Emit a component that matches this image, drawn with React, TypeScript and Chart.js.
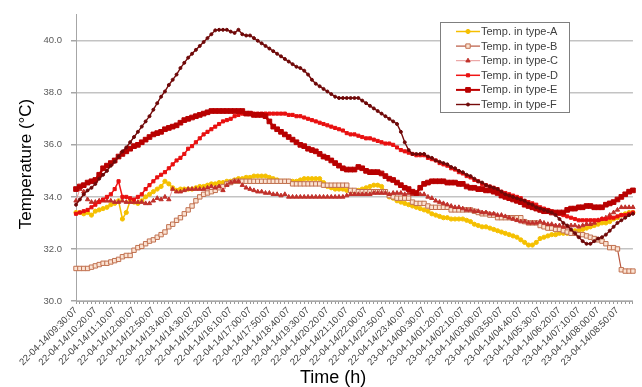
import React, { useEffect, useRef } from 'react';
import { Chart, registerables } from 'chart.js';

Chart.register(...registerables);

const SERIES_NAMES = [
  'Temp. in type-A',
  'Temp. in type-B',
  'Temp. in type-C',
  'Temp. in type-D',
  'Temp. in type-E',
  'Temp. in type-F',
];

const TYPE_A = [
  33.4, 33.4, 33.35, 33.4, 33.3, 33.45, 33.5, 33.55, 33.6, 33.7,
  33.75, 33.85, 33.15, 33.4, 33.85, 33.8, 33.75, 33.85, 34.0, 34.1,
  34.2, 34.3, 34.4, 34.6, 34.5, 34.35, 34.25, 34.3, 34.3, 34.3,
  34.3, 34.35, 34.4, 34.4, 34.45, 34.5, 34.5, 34.55, 34.55, 34.6,
  34.6, 34.65, 34.7, 34.7, 34.75, 34.75, 34.8, 34.8, 34.8, 34.8,
  34.75, 34.7, 34.65, 34.6, 34.6, 34.6, 34.6, 34.6, 34.65, 34.7,
  34.7, 34.7, 34.7, 34.7, 34.55, 34.4, 34.35, 34.3, 34.3, 34.3,
  34.25, 34.2, 34.2, 34.25, 34.3, 34.35, 34.4, 34.45, 34.45, 34.4,
  34.2, 34.0, 33.95, 33.85, 33.8, 33.75, 33.7, 33.65, 33.6, 33.55,
  33.5, 33.45, 33.35, 33.3, 33.25, 33.2, 33.2, 33.15, 33.15, 33.15,
  33.15, 33.1, 33.05, 32.95, 32.9, 32.85, 32.85, 32.8, 32.75, 32.7,
  32.65, 32.6, 32.55, 32.5, 32.45, 32.35, 32.25, 32.15, 32.15, 32.25,
  32.4, 32.45, 32.5, 32.55, 32.55, 32.6, 32.6, 32.6, 32.65, 32.7,
  32.7, 32.75, 32.8, 32.85, 32.9, 32.95, 33.0, 33.0, 33.05, 33.15,
  33.2, 33.3, 33.35, 33.4, 33.4,
];

const TYPE_B = [
  31.25, 31.25, 31.25, 31.25, 31.3, 31.35, 31.4, 31.45, 31.45, 31.5,
  31.55, 31.6, 31.7, 31.75, 31.75, 31.95, 32.05, 32.1, 32.2, 32.3,
  32.35, 32.45, 32.55, 32.65, 32.85, 32.95, 33.1, 33.2, 33.35, 33.5,
  33.65, 33.85, 34.0, 34.1, 34.15, 34.2, 34.25, 34.35, 34.4, 34.5,
  34.55, 34.6, 34.6, 34.6, 34.6, 34.6, 34.6, 34.6, 34.6, 34.6,
  34.6, 34.6, 34.6, 34.6, 34.6, 34.6, 34.5, 34.5, 34.5, 34.5,
  34.5, 34.5, 34.5, 34.5, 34.45, 34.45, 34.45, 34.45, 34.45, 34.45,
  34.45, 34.25, 34.25, 34.2, 34.2, 34.2, 34.2, 34.2, 34.2, 34.2,
  34.2, 34.05, 34.0, 33.95, 33.95, 33.95, 33.95, 33.8, 33.75, 33.75,
  33.75, 33.65, 33.6, 33.6, 33.6, 33.6, 33.6, 33.5, 33.5, 33.5,
  33.5, 33.5, 33.5, 33.45, 33.4, 33.35, 33.35, 33.3, 33.3, 33.2,
  33.2, 33.2, 33.2, 33.2, 33.2, 33.2, 33.05, 33.0, 33.0, 33.0,
  32.9, 32.85, 32.8, 32.8, 32.75, 32.75, 32.7, 32.65, 32.6, 32.6,
  32.55, 32.55, 32.5, 32.45, 32.4, 32.35, 32.3, 32.2, 32.05, 32.05,
  32.0, 31.2, 31.15, 31.15, 31.15,
];

const TYPE_C = [
  33.85, 34.3, 34.2, 33.9, 33.8, 33.8, 33.85, 33.85, 33.85, 33.85,
  33.8, 33.8, 33.85, 33.8, 33.8, 33.8, 33.8, 33.8, 33.75, 33.75,
  33.85, 33.95, 33.9, 34.0, 33.9, 34.3, 34.2, 34.2, 34.25, 34.3,
  34.3, 34.3, 34.3, 34.3, 34.35, 34.4, 34.35, 34.4, 34.25, 34.45,
  34.55, 34.6, 34.6, 34.45, 34.35, 34.3, 34.25, 34.2, 34.2, 34.15,
  34.15, 34.1, 34.1, 34.05, 34.1, 34.0, 34.0, 34.0, 34.0, 34.0,
  34.0, 34.0, 34.0, 34.0, 34.0, 34.0, 34.0, 34.0, 34.0, 34.0,
  34.05, 34.1, 34.1, 34.1, 34.1, 34.1, 34.1, 34.15, 34.15, 34.15,
  34.15, 34.1, 34.15, 34.15, 34.15, 34.1, 34.15, 34.1, 34.1, 34.1,
  34.1, 34.0, 33.95, 33.85, 33.8, 33.75, 33.7, 33.65, 33.6, 33.6,
  33.55, 33.5, 33.5, 33.45, 33.45, 33.4, 33.4, 33.35, 33.35, 33.3,
  33.3, 33.25, 33.2, 33.15, 33.1, 33.05, 33.05, 33.0, 33.0, 33.0,
  33.05, 33.0, 32.95, 32.95, 32.9, 32.9, 32.85, 32.85, 32.9, 32.9,
  32.85, 32.9, 32.95, 32.95, 33.0, 33.1, 33.15, 33.2, 33.3, 33.4,
  33.5, 33.6, 33.6, 33.6, 33.6,
];

const TYPE_D = [
  33.35, 33.4, 33.45, 33.5, 33.6, 33.7, 33.8, 33.9, 34.0, 34.1,
  34.3, 34.6, 34.0, 34.0, 33.95, 33.9, 34.0, 34.1, 34.3, 34.45,
  34.6, 34.75, 34.85, 34.95, 35.1, 35.25, 35.4, 35.5, 35.65, 35.85,
  35.95, 36.1, 36.25, 36.4, 36.5, 36.6, 36.7, 36.8, 36.9, 36.95,
  37.0, 37.1, 37.15, 37.2, 37.2, 37.2, 37.2, 37.2, 37.2, 37.2,
  37.2, 37.2, 37.2, 37.2, 37.2, 37.15, 37.15, 37.1, 37.1, 37.05,
  37.0, 36.95, 36.9, 36.85, 36.8, 36.75, 36.7, 36.65, 36.6, 36.55,
  36.45, 36.4, 36.4, 36.35, 36.3, 36.25, 36.25, 36.2, 36.15, 36.1,
  36.05, 36.05, 36.0, 35.9, 35.8, 35.75, 35.7, 35.65, 35.6, 35.6,
  35.6, 35.5, 35.45, 35.4, 35.3, 35.25, 35.2, 35.1, 35.05, 34.95,
  34.9, 34.8, 34.75, 34.65, 34.6, 34.5, 34.45, 34.4, 34.35, 34.3,
  34.2, 34.15, 34.1, 34.05, 34.0, 33.95, 33.85, 33.8, 33.75, 33.7,
  33.6, 33.55, 33.5, 33.45, 33.4, 33.35, 33.3, 33.25, 33.2, 33.15,
  33.1, 33.1, 33.1, 33.1, 33.1, 33.1, 33.15, 33.15, 33.2, 33.2,
  33.25, 33.3, 33.3, 33.35, 33.4,
];

const TYPE_E = [
  34.3, 34.4, 34.45, 34.55, 34.6, 34.65, 34.85, 35.1, 35.2, 35.3,
  35.4, 35.55, 35.65, 35.75, 35.85, 35.95, 36.0, 36.1, 36.2, 36.3,
  36.4, 36.45, 36.5, 36.6, 36.65, 36.7, 36.75, 36.85, 36.95, 37.0,
  37.05, 37.1, 37.15, 37.2, 37.25, 37.3, 37.3, 37.3, 37.3, 37.3,
  37.3, 37.3, 37.3, 37.3, 37.2, 37.2, 37.15, 37.15, 37.15, 37.1,
  36.9, 36.7, 36.6, 36.5, 36.4, 36.3, 36.2, 36.1, 36.0, 35.95,
  35.85, 35.8, 35.75, 35.65, 35.55, 35.5, 35.4, 35.3, 35.2, 35.1,
  35.05, 35.05, 35.05, 35.15, 35.1, 35.0, 34.95, 34.95, 34.95, 34.9,
  34.8, 34.7, 34.65, 34.55, 34.45, 34.35, 34.3, 34.2, 34.15, 34.35,
  34.5, 34.55, 34.6, 34.6, 34.6, 34.6, 34.55, 34.55, 34.55, 34.5,
  34.5, 34.4, 34.35, 34.35, 34.3, 34.3, 34.25, 34.25, 34.2, 34.15,
  34.05, 34.0, 33.95, 33.9, 33.85, 33.8, 33.7, 33.65, 33.6, 33.55,
  33.5, 33.45, 33.45, 33.4, 33.4, 33.4, 33.4, 33.5, 33.55, 33.55,
  33.6, 33.6, 33.65, 33.65, 33.6, 33.6, 33.6, 33.7, 33.75, 33.8,
  33.9, 34.0, 34.1, 34.2, 34.25,
];

const TYPE_F = [
  33.7, 33.9, 34.1, 34.25, 34.35, 34.5, 34.7, 34.85, 35.0, 35.2,
  35.35, 35.55, 35.75, 35.9, 36.1, 36.3, 36.5, 36.7, 36.9, 37.1,
  37.35, 37.6, 37.85, 38.05, 38.3, 38.5, 38.7, 38.95, 39.15, 39.35,
  39.5, 39.65, 39.8, 39.95, 40.1, 40.25, 40.4, 40.42, 40.42, 40.42,
  40.35, 40.3, 40.42, 40.25, 40.2, 40.2, 40.1, 40.0, 39.9, 39.8,
  39.7, 39.6, 39.5, 39.4, 39.3, 39.2, 39.1, 39.0, 38.95, 38.85,
  38.7, 38.5, 38.35, 38.25, 38.15, 38.05, 37.95, 37.85, 37.8, 37.8,
  37.8, 37.8, 37.8, 37.8, 37.7, 37.6, 37.5, 37.4, 37.3, 37.2,
  37.1, 37.0, 36.9, 36.8, 36.5, 36.1, 35.8, 35.65, 35.65, 35.65,
  35.65, 35.55, 35.5, 35.4, 35.35, 35.3, 35.25, 35.15, 35.1, 35.0,
  34.95, 34.85, 34.8, 34.7, 34.6, 34.55, 34.45, 34.4, 34.35, 34.3,
  34.2, 34.1, 34.05, 34.0, 33.95, 33.9, 33.85, 33.75, 33.7, 33.6,
  33.55, 33.5, 33.45, 33.4, 33.3, 33.15, 33.0, 32.9, 32.75, 32.6,
  32.45, 32.3, 32.2, 32.2, 32.3, 32.4, 32.45, 32.55, 32.7, 32.85,
  33.0, 33.1, 33.2, 33.3, 33.35,
];

const Y_TICKS = [30, 32, 34, 36, 38, 40];
const LABEL_EVERY = 5;
const START_DAY = '22-04-14';
const NEXT_DAY = '23-04-14';
const START_MINUTES = 9 * 60 + 30;
const STEP_MINUTES = 10;
const SECONDS = '07';

function buildCategories(n: number): string[] {
  const out: string[] = [];
  for (let k = 0; k < n; k++) {
    const total = START_MINUTES + k * STEP_MINUTES;
    const day = total >= 1440 ? NEXT_DAY : START_DAY;
    const m = total % 1440;
    const hh = String(Math.floor(m / 60)).padStart(2, '0');
    const mm = String(m % 60).padStart(2, '0');
    out.push(`${day}/${hh}:${mm}:${SECONDS}`);
  }
  return out;
}

const CATEGORIES = buildCategories(TYPE_A.length);

const FONT = '"Liberation Sans", Arial, sans-serif';

type Style = {
  line: string;
  width: number;
  point: string;
  radius: number;
  fill: string;
  stroke: string;
  pbw: number;
};

const STYLES: Style[] = [
  { line: '#F5BE00', width: 1.5, point: 'circle', radius: 2.1, fill: '#F5C000', stroke: '#F5C000', pbw: 1 },
  { line: '#B9563F', width: 1.2, point: 'rect', radius: 3.1, fill: '#FBE3D3', stroke: '#C0704F', pbw: 1 },
  { line: '#E89494', width: 1, point: 'triangle', radius: 2.5, fill: '#C0302A', stroke: '#C0302A', pbw: 1 },
  { line: '#F01515', width: 1.5, point: 'rect', radius: 2.2, fill: '#E81010', stroke: '#E81010', pbw: 1 },
  { line: '#BE0000', width: 2.5, point: 'rect', radius: 3.3, fill: '#B80000', stroke: '#B80000', pbw: 1 },
  { line: '#760A0A', width: 1.4, point: 'circle', radius: 1.5, fill: '#6E0808', stroke: '#6E0808', pbw: 1 },
];

function drawMarker(ctx: CanvasRenderingContext2D, st: Style, x: number, y: number) {
  const r = st.radius;
  ctx.beginPath();
  if (st.point === 'circle') {
    ctx.arc(x, y, r, 0, Math.PI * 2);
  } else if (st.point === 'rect') {
    const s = r * Math.SQRT1_2;
    ctx.rect(x - s, y - s, 2 * s, 2 * s);
  } else {
    let a = 0;
    ctx.moveTo(x + Math.sin(a) * r, y - Math.cos(a) * r);
    a += (2 * Math.PI) / 3;
    ctx.lineTo(x + Math.sin(a) * r, y - Math.cos(a) * r);
    a += (2 * Math.PI) / 3;
    ctx.lineTo(x + Math.sin(a) * r, y - Math.cos(a) * r);
    ctx.closePath();
  }
  ctx.fillStyle = st.fill;
  ctx.fill();
  ctx.lineWidth = st.pbw;
  ctx.strokeStyle = st.stroke;
  ctx.stroke();
}

const decorPlugin = {
  id: 'decor',
  afterDraw(chart: any) {
    const ctx: CanvasRenderingContext2D = chart.ctx;
    const area = chart.chartArea;
    ctx.save();
    // axis titles
    ctx.fillStyle = '#000000';
    ctx.font = `18px ${FONT}`;
    ctx.textAlign = 'left';
    ctx.textBaseline = 'alphabetic';
    ctx.fillText('Time (h)', 300, 383);
    ctx.save();
    ctx.translate(31, 164);
    ctx.rotate(-Math.PI / 2);
    ctx.font = `17px ${FONT}`;
    ctx.textAlign = 'center';
    ctx.fillText('Temperature (\u00B0C)', 0, 0);
    ctx.restore();

    // legend box
    const bx = area.left + 364;
    const by = 22;
    const bw = 129;
    const bh = 90;
    ctx.fillStyle = '#ffffff';
    ctx.fillRect(bx, by, bw, bh);
    ctx.strokeStyle = '#7f7f7f';
    ctx.lineWidth = 1;
    ctx.strokeRect(bx + 0.5, by + 0.5, bw, bh);
    ctx.font = `11px ${FONT}`;
    ctx.textAlign = 'left';
    ctx.textBaseline = 'middle';
    SERIES_NAMES.forEach((name, i) => {
      const st = STYLES[i];
      const y = by + 9.5 + i * 14.6;
      ctx.strokeStyle = st.line;
      ctx.lineWidth = Math.min(st.width, 2);
      ctx.beginPath();
      ctx.moveTo(bx + 16, y);
      ctx.lineTo(bx + 40, y);
      ctx.stroke();
      drawMarker(ctx, st, bx + 28, y);
      ctx.fillStyle = '#404040';
      ctx.fillText(name, bx + 41, y + 0.5);
    });
    ctx.restore();
  },
};

export default function App() {
  const ref = useRef<HTMLCanvasElement | null>(null);

  useEffect(() => {
    document.body.style.margin = '0';
    const canvas = ref.current;
    if (!canvas) return;
    const seriesValues = [TYPE_A, TYPE_B, TYPE_C, TYPE_D, TYPE_E, TYPE_F];
    const chart = new Chart(canvas, {
      type: 'line',
      data: {
        labels: CATEGORIES,
        datasets: seriesValues.map((vals, i) => ({
          label: SERIES_NAMES[i],
          data: vals,
          borderColor: STYLES[i].line,
          borderWidth: STYLES[i].width,
          pointStyle: STYLES[i].point,
          pointRadius: STYLES[i].radius,
          pointBackgroundColor: STYLES[i].fill,
          pointBorderColor: STYLES[i].stroke,
          pointBorderWidth: STYLES[i].pbw,
          tension: 0,
          fill: false,
          order: seriesValues.length - 1 - i,
        })),
      },
      options: {
        responsive: false,
        animation: false,
        devicePixelRatio: 1,
        layout: { padding: { top: 13, right: 2, left: 0, bottom: 0 } },
        plugins: {
          legend: { display: false },
          tooltip: { enabled: false },
          title: { display: false },
        },
        scales: {
          x: {
            type: 'category',
            offset: false,
            grid: {
              display: true,
              drawOnChartArea: false,
              drawTicks: true,
              tickLength: 3,
              color: '#9a9a9a',
              tickColor: '#9a9a9a',
            },
            border: { display: true, color: '#a6a6a6', width: 1 },
            ticks: {
              autoSkip: false,
              minRotation: 45,
              maxRotation: 45,
              padding: 1,
              color: '#404040',
              font: { family: FONT, size: 9.5 },
              callback: (_v: any, i: number) => (i % LABEL_EVERY === 0 ? CATEGORIES[i] : ''),
            },
            afterFit: (s: any) => {
              s.height = 86;
            },
          },
          y: {
            min: 30,
            max: 41,
            afterBuildTicks: (s: any) => {
              s.ticks = Y_TICKS.map((v) => ({ value: v }));
            },
            grid: {
              color: '#c3c3c3',
              lineWidth: 1.5,
              drawTicks: true,
              tickLength: 5,
              tickColor: '#a6a6a6',
            },
            border: { display: true, color: '#a6a6a6', width: 1 },
            ticks: {
              padding: 9,
              color: '#595959',
              font: { family: FONT, size: 9.5 },
              callback: (v: any) => Number(v).toFixed(1),
            },
            afterFit: (s: any) => {
              s.width = 76;
            },
          },
        },
      } as any,
      plugins: [decorPlugin],
    });
    return () => chart.destroy();
  }, []);

  return (
    <div style={{ width: 642, height: 387 }}>
      <canvas ref={ref} width={642} height={387} style={{ display: 'block' }} />
    </div>
  );
}
